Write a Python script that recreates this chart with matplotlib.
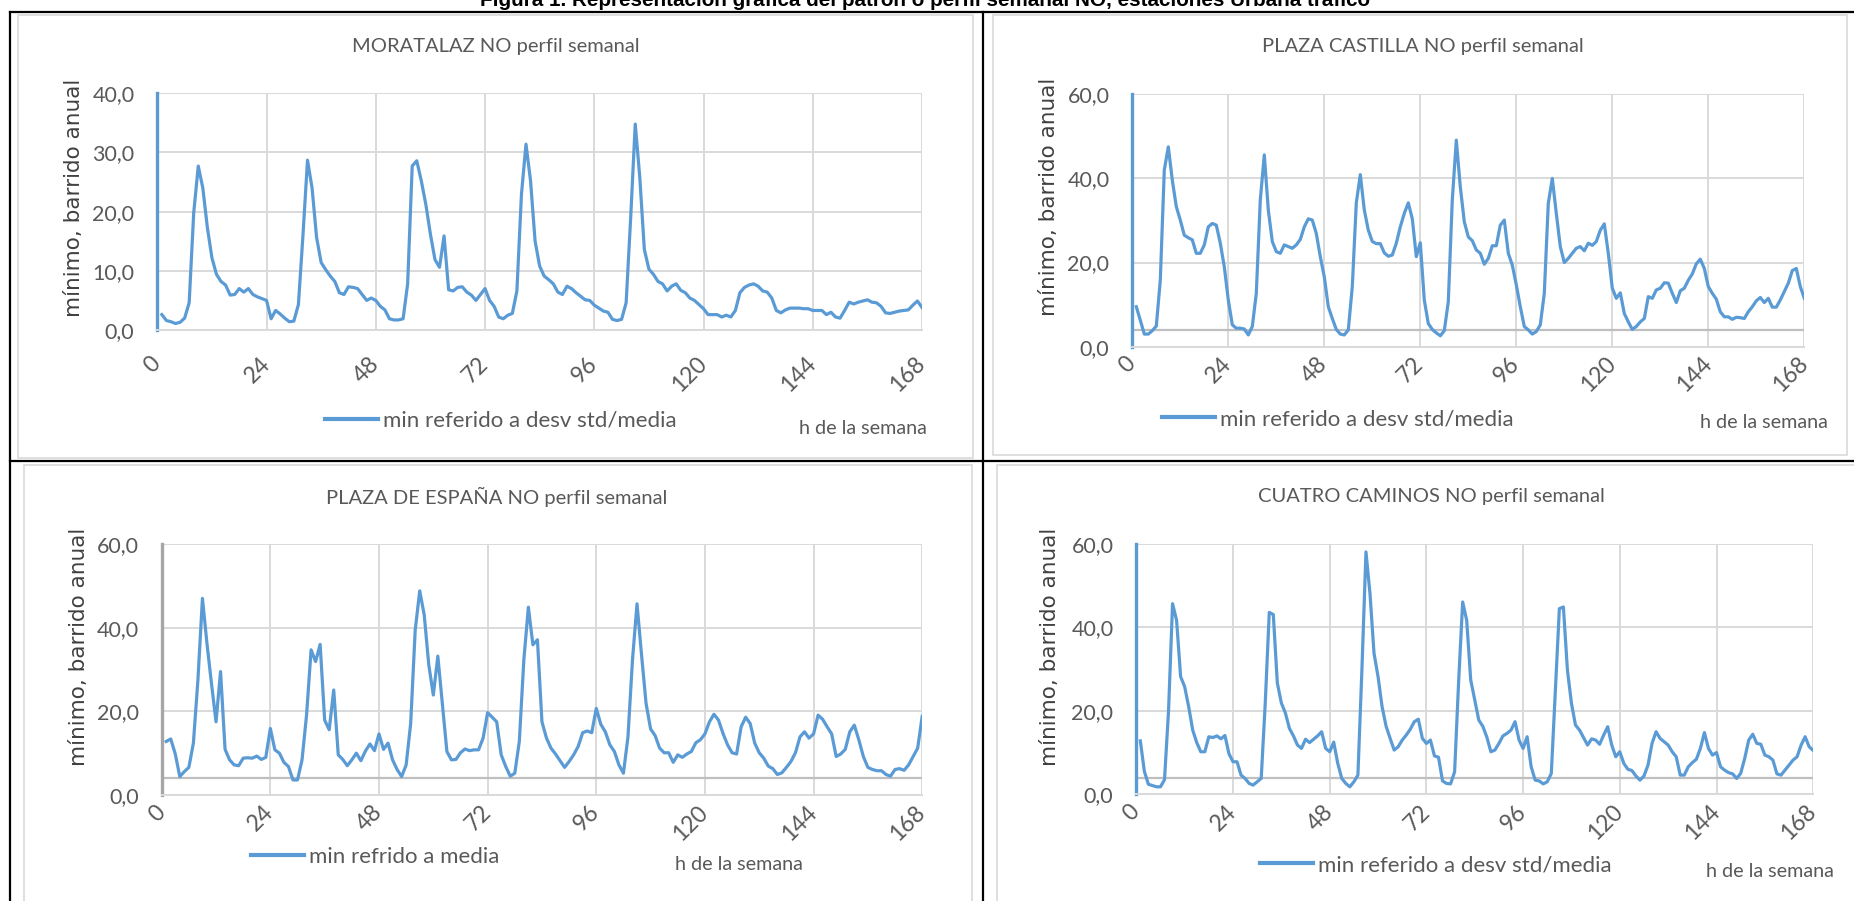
import matplotlib.pyplot as plt
from matplotlib.lines import Line2D
from matplotlib.patches import Rectangle
import numpy as np

# figure size in pixels (dpi 100)
W, H = 1854, 901

hours = np.arange(1, 169)
x_ticks = [0, 24, 48, 72, 96, 120, 144, 168]

moratalaz = [2.6, 1.6, 1.4, 1.1, 1.3, 2.0, 4.6, 19.8, 27.7, 24.0,
             17.3, 12.2, 9.4, 8.2, 7.6, 5.9, 6.0, 7.0, 6.4, 7.0,
             6.0, 5.6, 5.3, 5.0, 1.9, 3.3, 2.7, 2.0, 1.4, 1.5,
             4.3, 16.0, 28.7, 24.0, 15.6, 11.4, 10.2, 9.1, 8.2, 6.3,
             6.0, 7.3, 7.2, 7.0, 6.0, 5.0, 5.4, 5.0, 4.0, 3.4,
             1.9, 1.7, 1.7, 1.9, 7.8, 27.7, 28.6, 25.2, 21.2, 16.2,
             11.9, 10.6, 15.9, 6.8, 6.6, 7.2, 7.3, 6.4, 5.9, 5.0,
             6.0, 7.0, 5.0, 4.0, 2.2, 1.9, 2.5, 2.8, 6.6, 22.9,
             31.4, 25.2, 15.0, 10.8, 9.1, 8.5, 7.8, 6.4, 6.0, 7.4,
             7.0, 6.3, 5.7, 5.1, 5.0, 4.2, 3.7, 3.2, 3.0, 1.8,
             1.6, 1.8, 4.6, 19.0, 34.8, 25.8, 13.6, 10.3, 9.4, 8.2,
             7.8, 6.6, 7.4, 7.8, 6.7, 6.3, 5.4, 5.0, 4.3, 3.6,
             2.6, 2.6, 2.6, 2.2, 2.5, 2.2, 3.3, 6.3, 7.2, 7.6,
             7.8, 7.4, 6.6, 6.4, 5.4, 3.3, 2.9, 3.4, 3.7, 3.7,
             3.7, 3.6, 3.6, 3.3, 3.3, 3.3, 2.6, 3.0, 2.2, 2.0,
             3.3, 4.7, 4.4, 4.7, 4.9, 5.1, 4.7, 4.6, 4.0, 2.9,
             2.8, 3.0, 3.2, 3.3, 3.4, 4.2, 4.9, 3.8]

castilla = [9.5, 6.3, 3.0, 3.0, 3.8, 4.9, 15.8, 42.0, 47.5, 39.6,
            33.3, 30.1, 26.5, 25.9, 25.4, 22.2, 22.2, 24.2, 28.5, 29.3,
            28.9, 24.6, 19.0, 11.1, 5.2, 4.4, 4.4, 4.2, 2.8, 4.8,
            12.7, 34.9, 45.6, 32.5, 25.0, 22.6, 22.2, 24.2, 23.8, 23.4,
            24.2, 25.5, 28.5, 30.4, 30.1, 26.9, 21.4, 16.6, 9.5, 6.7,
            4.1, 3.0, 2.8, 4.0, 14.3, 34.2, 40.9, 32.5, 27.7, 25.0,
            24.5, 24.5, 22.3, 21.5, 21.8, 24.6, 28.5, 31.7, 34.2, 30.4,
            21.4, 24.7, 11.1, 5.5, 4.1, 3.3, 2.6, 3.8, 10.7, 34.9,
            49.1, 38.0, 29.7, 26.1, 25.2, 23.0, 22.2, 19.6, 21.0, 24.0,
            24.0, 28.9, 30.1, 22.2, 19.4, 14.7, 9.5, 4.8, 4.0, 3.0,
            3.6, 5.2, 12.7, 34.1, 40.0, 31.7, 23.8, 20.0, 21.0, 22.2,
            23.4, 23.8, 22.8, 24.6, 24.1, 25.0, 27.7, 29.2, 22.2, 13.9,
            11.5, 12.8, 7.9, 5.9, 4.1, 4.8, 5.9, 6.7, 11.9, 11.5,
            13.5, 13.9, 15.2, 15.1, 12.7, 10.5, 13.3, 13.9, 15.8, 17.3,
            19.7, 20.8, 18.6, 14.3, 12.7, 11.3, 8.3, 7.1, 7.1, 6.5,
            7.0, 6.9, 6.7, 8.3, 9.5, 10.9, 11.7, 10.5, 11.5, 9.4,
            9.4, 11.1, 13.1, 15.1, 18.1, 18.6, 14.3, 11.5]

espana = [12.8, 13.4, 9.8, 4.4, 5.6, 6.6, 12.4, 27.5, 47.0, 36.2,
          26.6, 17.5, 29.5, 10.9, 8.4, 7.2, 7.0, 8.8, 8.9, 8.8,
          9.3, 8.5, 9.0, 15.9, 10.8, 10.0, 7.8, 6.8, 3.6, 3.6,
          8.4, 19.1, 34.7, 31.9, 36.0, 17.9, 15.6, 25.1, 9.6, 8.5,
          7.0, 8.4, 10.0, 8.2, 10.5, 12.2, 10.6, 14.6, 10.9, 12.4,
          8.4, 6.1, 4.4, 7.2, 17.1, 39.4, 48.8, 43.0, 31.1, 23.9,
          33.2, 21.9, 10.4, 8.4, 8.5, 10.1, 11.0, 10.6, 10.8, 10.8,
          13.6, 19.7, 18.6, 17.5, 9.6, 6.8, 4.5, 5.2, 12.8, 32.3,
          44.9, 35.9, 37.1, 17.5, 13.6, 11.2, 9.8, 8.2, 6.6, 8.0,
          9.6, 11.6, 14.9, 15.3, 14.9, 20.7, 16.9, 15.1, 12.0, 10.4,
          7.2, 5.2, 13.9, 32.3, 45.7, 33.5, 21.9, 15.8, 14.2, 11.2,
          10.1, 10.1, 7.8, 9.6, 9.0, 9.8, 10.4, 12.5, 13.2, 14.6,
          17.5, 19.3, 17.9, 14.7, 12.0, 10.1, 9.8, 16.3, 18.6, 17.1,
          12.4, 10.1, 8.8, 6.9, 6.3, 4.9, 5.3, 6.6, 8.0, 10.1,
          13.9, 15.1, 13.6, 14.6, 19.1, 18.1, 16.3, 14.6, 9.2, 9.8,
          10.9, 15.1, 16.7, 13.2, 9.2, 6.6, 6.1, 5.8, 5.8, 4.9,
          4.5, 6.1, 6.3, 5.9, 7.2, 9.2, 11.2, 18.8]

cuatro = [12.8, 5.5, 2.4, 2.1, 1.8, 1.8, 3.5, 20.0, 45.7, 41.7,
          28.2, 25.8, 21.0, 15.4, 12.4, 10.2, 10.2, 13.8, 13.6, 14.0,
          13.3, 14.1, 9.7, 7.8, 7.8, 4.6, 3.8, 2.6, 2.2, 3.0,
          3.8, 21.8, 43.6, 43.1, 26.7, 21.9, 19.5, 15.8, 14.0, 11.8,
          11.0, 13.2, 12.4, 13.2, 14.0, 15.0, 11.0, 10.2, 12.5, 7.4,
          3.8, 2.6, 1.8, 3.0, 4.6, 30.0, 58.1, 48.1, 33.8, 28.2,
          21.0, 16.3, 13.4, 10.6, 11.4, 13.0, 14.2, 15.6, 17.4, 18.0,
          13.4, 12.2, 13.0, 9.2, 8.9, 3.2, 2.6, 2.5, 5.4, 27.0,
          46.1, 41.7, 27.4, 22.6, 17.8, 16.3, 13.7, 10.2, 10.6, 12.2,
          14.0, 14.6, 15.4, 17.4, 13.0, 11.0, 13.8, 6.6, 3.4, 3.2,
          2.5, 3.0, 5.0, 25.0, 44.5, 44.9, 29.8, 21.8, 16.6, 15.4,
          13.6, 11.8, 13.3, 13.0, 12.0, 14.2, 16.2, 11.8, 9.0, 10.2,
          7.4, 6.0, 5.7, 4.4, 3.4, 4.4, 7.0, 12.2, 15.0, 13.4,
          12.6, 11.8, 10.2, 9.0, 4.6, 4.6, 6.6, 7.6, 8.4, 11.0,
          14.8, 11.0, 9.4, 10.0, 6.6, 5.8, 5.2, 4.9, 3.8, 5.0,
          8.6, 13.0, 14.4, 12.2, 12.0, 9.4, 9.0, 8.2, 4.9, 4.6,
          5.8, 7.0, 8.2, 9.0, 11.8, 13.8, 11.4, 10.5]

titles = ["MORATALAZ NO perfil semanal", "PLAZA CASTILLA NO perfil semanal",
          "PLAZA DE ESPAÑA NO perfil semanal", "CUATRO CAMINOS NO perfil semanal"]
legend_labels = ["min referido a desv std/media", "min referido a desv std/media",
                 "min refrido a media", "min referido a desv std/media"]
series = [moratalaz, castilla, espana, cuatro]
y_max = [40, 60, 60, 60]
y_step = [10, 20, 20, 20]

BLUE = '#5b9bd5'
GRID = '#d9d9d9'
TXT = '#595959'


def fx(px):
    return px / W


def fy(py):
    return 1 - py / H


# panel layout in pixels: plot box (left, right, top, bottom), title, legend, etc.
panels = [
    dict(box=(157.3, 922.0, 93.3, 330.0), title=(495.6, 46.7), leg=(325, 420.7),
         ylab=(74.5, 197.5), xlab=(927, 428), xpad=22, spine=BLUE, base=None),
    dict(box=(1132.3, 1804.3, 94.3, 346.7), title=(1423, 46.7), leg=(1162, 419),
         ylab=(1049, 197), xlab=(1828, 423), xpad=10, spine=BLUE, base=4),
    dict(box=(161.7, 922.2, 544.0, 795.0), title=(497, 496.7), leg=(251, 857),
         ylab=(79, 647), xlab=(803, 864), xpad=10, spine='#a6a6a6', base=4),
    dict(box=(1136.3, 1813.2, 544.0, 794.3), title=(1431, 496.7), leg=(1260, 865),
         ylab=(1050, 647), xlab=(1834, 871.7), xpad=10, spine=BLUE, base=4),
]

fig = plt.figure(figsize=(W / 100, H / 100), dpi=100)

# table and chart-area frames
for (x0, y0, x1, y1) in [(18, 15, 973, 458), (993, 15, 1847, 455),
                         (24, 465, 972, 905), (997, 465, 1860, 905)]:
    fig.add_artist(Rectangle((fx(x0), fy(y1)), fx(x1 - x0), (y1 - y0) / H,
                             transform=fig.transFigure, fill=False,
                             edgecolor=GRID, lw=1.2))
for (x0, y0, x1, y1) in [(10, 12, 1854, 12), (10, 461, 1854, 461),
                         (10, 12, 10, 901), (983, 12, 983, 901)]:
    fig.add_artist(Line2D([fx(x0), fx(x1)], [fy(y0), fy(y1)],
                          transform=fig.transFigure, color='black', lw=1.6))

fig.text(fx(925), fy(5.5),
         "Figura 1. Representación gráfica del patrón o perfil semanal NO, estaciones Urbana tráfico",
         ha='center', va='baseline', fontsize=14.9, fontweight='bold',
         family='Liberation Sans', color='black')

for i, p in enumerate(panels):
    left, right, top, bottom = p['box']
    ax = fig.add_axes([fx(left), fy(bottom), (right - left) / W, (bottom - top) / H])
    ax.plot(hours, series[i], color=BLUE, lw=2.3, solid_joinstyle='round',
            label=legend_labels[i], zorder=3)
    ax.set_xlim(0, 168)
    ax.set_ylim(0, y_max[i])

    yt = np.arange(0, y_max[i] + 1, y_step[i])
    ax.set_yticks(yt)
    ax.set_yticklabels([f"{v},0" for v in yt], family='Lato', fontsize=15.5, color=TXT)
    ax.set_xticks(x_ticks)
    ax.set_xticklabels([str(t) for t in x_ticks], family='Lato', fontsize=16.5,
                       color=TXT, rotation=45, ha='right', va='center',
                       rotation_mode='anchor')
    ax.tick_params(axis='y', length=0, pad=16.5)
    ax.tick_params(axis='x', length=0, pad=p['xpad'])

    ax.grid(True, color=GRID, lw=1.4)
    ax.set_axisbelow(True)
    for s in ['top', 'right']:
        ax.spines[s].set_visible(False)
    ax.spines['bottom'].set_color(GRID)
    ax.spines['bottom'].set_linewidth(1.4)
    ax.spines['left'].set_color(p['spine'])
    ax.spines['left'].set_linewidth(2.4)
    if p['base'] is not None:
        ax.axhline(p['base'], color='#bfbfbf', lw=1.6, zorder=2)

    ax.set_ylabel("mínimo, barrido anual", family='DejaVu Sans', fontsize=15.5,
                  color='#404040')
    ax.yaxis.label.set_va('center')
    ax.yaxis.set_label_coords((p['ylab'][0] - left) / (right - left),
                              (bottom - p['ylab'][1]) / (bottom - top))
    ax.set_xlabel("h de la semana", family='Lato', fontsize=14.2, color=TXT)
    ax.xaxis.label.set_ha('right')
    ax.xaxis.label.set_va('center')
    ax.xaxis.set_label_coords((p['xlab'][0] - left) / (right - left),
                              (bottom - p['xlab'][1]) / (bottom - top))

    fig.text(fx(p['title'][0]), fy(p['title'][1]), titles[i], ha='center',
             va='center', family='Lato', fontsize=14.5, color=TXT)

    ax.legend(loc='center left', bbox_to_anchor=(fx(p['leg'][0]), fy(p['leg'][1])),
              bbox_transform=fig.transFigure, frameon=False, borderpad=0,
              borderaxespad=0, handlelength=2.4, handletextpad=0.2,
              prop={'family': 'Lato', 'size': 16}, labelcolor=TXT)
    ax.get_legend().get_lines()[0].set_linewidth(3.0)

fig.savefig('out.png', dpi=100)
